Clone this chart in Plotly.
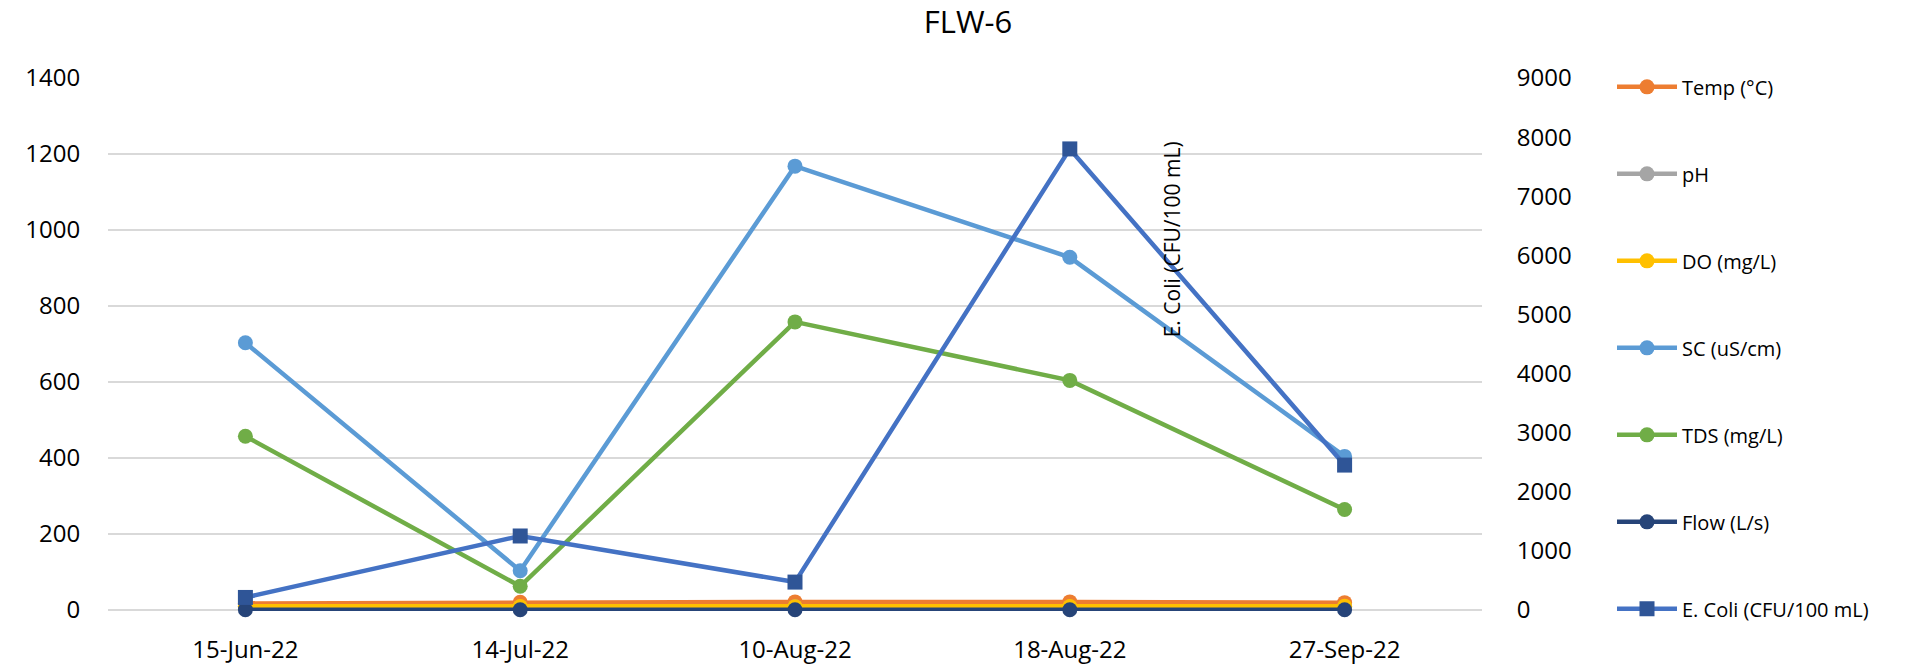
import plotly.graph_objects as go

# Sampling dates for station FLW-6
dates = ["15-Jun-22", "14-Jul-22", "10-Aug-22", "18-Aug-22", "27-Sep-22"]

# Field measurements (left axis)
temp_c = [17, 20, 21, 21, 19]
ph = [7.6, 7.8, 7.9, 7.7, 7.8]
do_mg_l = [9.5, 9.0, 8.5, 8.8, 9.8]
sc_us_cm = [703, 103, 1168, 928, 404]
tds_mg_l = [457, 62, 758, 604, 264]
flow_l_s = [0.5, 0.3, 0.2, 0.2, 0.4]

# Bacteria counts (right axis)
ecoli_cfu = [210, 1250, 470, 7800, 2450]

FONT = "Open Sans"
left_ticks = [0, 200, 400, 600, 800, 1000, 1200, 1400]
right_ticks = [0, 1000, 2000, 3000, 4000, 5000, 6000, 7000, 8000, 9000]

# small pad below zero so the near-zero lines are not cut by the plot edge
pad = 3
left_range = [-pad, 1400]
right_range = [-pad * 9000 / 1400, 9000]

fig = go.Figure()

series = [
    ("Temp (°C)", temp_c, "#ED7D31"),
    ("pH", ph, "#A5A5A5"),
    ("DO (mg/L)", do_mg_l, "#FFC000"),
    ("SC (uS/cm)", sc_us_cm, "#5B9BD5"),
    ("TDS (mg/L)", tds_mg_l, "#70AD47"),
    ("Flow (L/s)", flow_l_s, "#264478"),
]
for i, (name, vals, col) in enumerate(series):
    fig.add_trace(go.Scatter(
        x=dates, y=vals, name=name, mode="lines+markers",
        line=dict(color=col, width=4.5),
        marker=dict(symbol="circle", size=15, color=col),
        legendgroup=f"g{i}", yaxis="y", cliponaxis=False,
    ))

fig.add_trace(go.Scatter(
    x=dates, y=ecoli_cfu, name="E. Coli (CFU/100 mL)", mode="lines+markers",
    line=dict(color="#4472C4", width=4.5),
    marker=dict(symbol="square", size=15, color="#2F5597"),
    legendgroup="g6", yaxis="y2", cliponaxis=False,
))

fig.update_layout(
    width=1917, height=669,
    margin=dict(l=108, r=435, t=78, b=58),
    paper_bgcolor="white", plot_bgcolor="white",
    font=dict(family=FONT, size=24, color="#000000"),
    title=dict(text="FLW-6", x=0.505, xanchor="center",
               y=0.967, yanchor="middle", font=dict(family=FONT, size=31, color="#000000")),
    xaxis=dict(
        type="category", range=[-0.5, 4.5], showgrid=False, zeroline=False,
        showline=False, ticks="outside", ticklen=17, tickcolor="rgba(0,0,0,0)",
        tickfont=dict(family=FONT, size=24), automargin=False,
    ),
    yaxis=dict(
        range=left_range, tickvals=left_ticks, showgrid=True, gridcolor="#D9D9D9",
        gridwidth=1.5, zeroline=False, showline=False, ticks="outside",
        ticklen=22, tickcolor="rgba(0,0,0,0)", tickfont=dict(family=FONT, size=24),
        automargin=False,
    ),
    yaxis2=dict(
        range=right_range, tickvals=right_ticks, overlaying="y", side="right",
        showgrid=False, zeroline=False, showline=False, ticks="outside",
        ticklen=29, tickcolor="rgba(0,0,0,0)", tickfont=dict(family=FONT, size=24),
        automargin=False,
    ),
    legend=dict(
        x=(1612 - 108) / 1374, xanchor="left", y=1.02, yanchor="top",
        font=dict(family=FONT, size=20), tracegroupgap=58,
        bgcolor="rgba(0,0,0,0)", itemwidth=60, maxheight=1.0,
    ),
    annotations=[dict(
        text="E. Coli (CFU/100 mL)", xref="paper", yref="paper",
        x=(1172 - 108) / 1374, y=(609.7 - 238) / 533, textangle=-90,
        showarrow=False, font=dict(family=FONT, size=21, color="#000000"),
        xanchor="center", yanchor="middle",
    )],
    showlegend=True,
)

fig.write_html("out.html")
